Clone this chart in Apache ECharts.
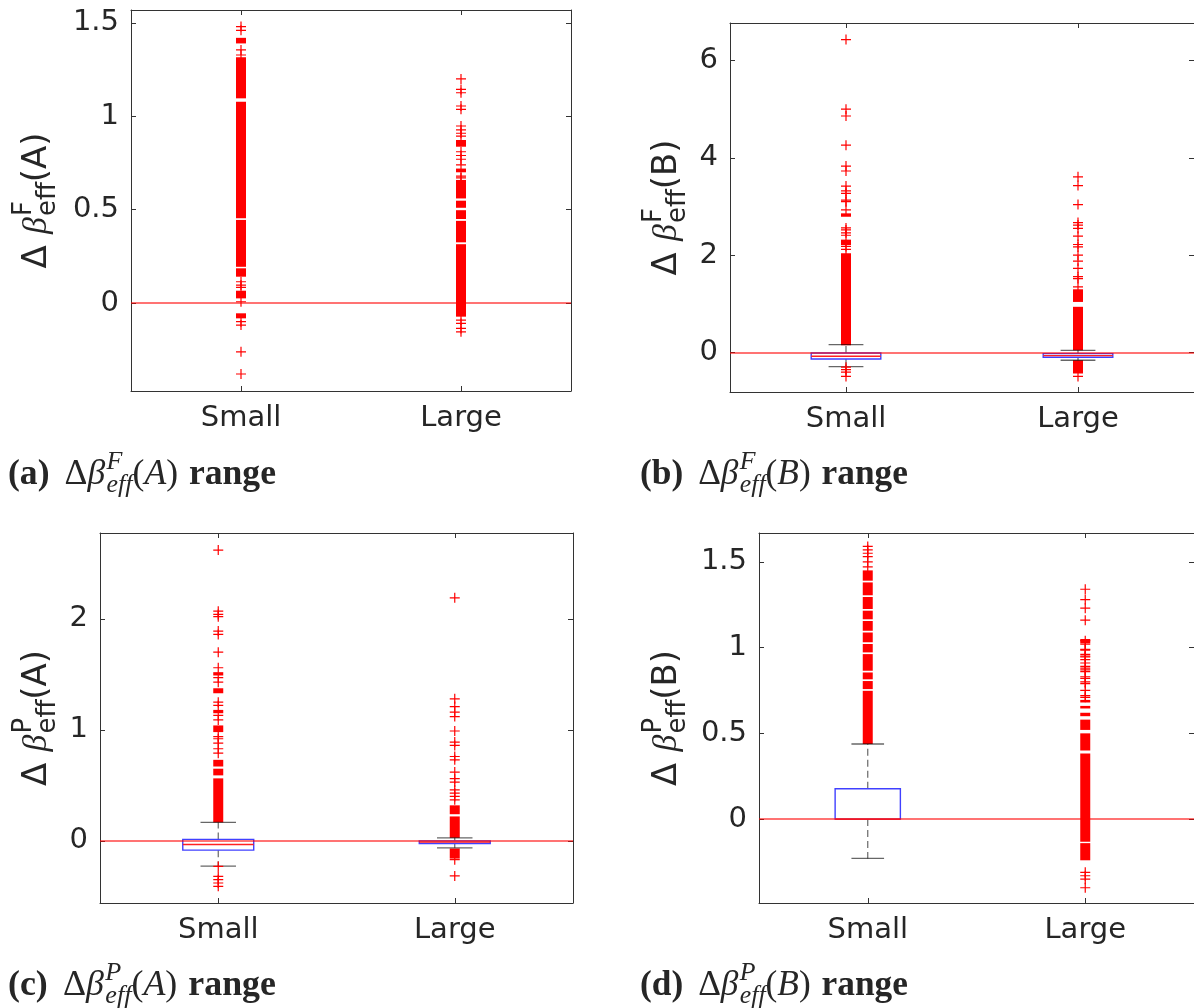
<!DOCTYPE html>
<html><head><meta charset="utf-8">
<script src="https://cdn.jsdelivr.net/npm/echarts@6/dist/echarts.min.js"></script>
<style>html,body{margin:0;padding:0;background:#fff}#c{width:1194px;height:1008px}</style>
</head><body><div id="c"></div>
<script>
// ---------------- DATA ----------------
const categories = ['Small', 'Large'];
const zeroRef = 0;

// (a) ΔβF_eff(A)
const aYTicks = [0, 0.5, 1, 1.5];
const aYRange = [-0.471, 1.569];
const aSmallBox = null;
const aLargeBox = null;
const aSmallOutliers = [1.48, 1.46, 1.355, 1.328, 0.114, 0.096, 0.084, 0.007, -0.10, -0.118, -0.261, -0.38];
const aSmallBands = [[1.39, 1.42], [1.096, 1.316], [0.454, 1.078], [0.194, 0.445], [0.141, 0.186], [0.025, 0.066], [-0.082, -0.055]];
const aLargeOutliers = [1.20, 1.144, 1.126, 1.055, 1.037, 0.948, 0.927, 0.909, 0.894, 0.81, 0.79, 0.77, 0.74, 0.68, 0.67, -0.091, -0.109, -0.136, -0.154];
const aLargeBands = [[0.837, 0.873], [0.70, 0.72], [0.56, 0.659], [0.51, 0.548], [0.45, 0.497], [0.325, 0.44], [-0.073, 0.315]];

// (b) ΔβF_eff(B)   box = [lowWhisker, q1, median, q3, highWhisker]
const bYTicks = [0, 2, 4, 6];
const bYRange = [-0.81, 6.77];
const bSmallBox = [-0.288, -0.131, -0.076, -0.008, 0.165];
const bLargeBox = [-0.158, -0.097, -0.062, -0.021, 0.047];
const bSmallOutliers = [2.12, 2.18, 2.41, 2.46, 2.52, 2.56, 2.93, 3.10, 3.13, 3.27, 3.32, 3.42, 3.73, 3.83, 4.26, 4.86, 5.0, 6.43, -0.30, -0.35, -0.40, -0.49];
const bSmallBands = [[0.15, 2.04], [2.21, 2.32], [2.79, 2.86]];
const bLargeOutliers = [1.35, 1.52, 1.56, 1.73, 1.88, 2.00, 2.17, 2.22, 2.39, 2.55, 2.62, 2.67, 3.04, 3.43, 3.61, -0.49];
const bLargeBands = [[0.047, 0.94], [1.04, 1.30], [-0.43, -0.158]];

// (c) ΔβP_eff(A)
const cYTicks = [0, 1, 2];
const cYRange = [-0.56, 2.774];
const cSmallBox = [-0.228, -0.084, -0.033, 0.013, 0.166];
const cLargeBox = [-0.063, -0.024, -0.012, 0.0, 0.027];
const cSmallOutliers = [0.79, 0.83, 0.88, 0.92, 0.94, 1.09, 1.13, 1.22, 1.25, 1.43, 1.47, 1.56, 1.70, 1.86, 1.89, 2.02, 2.04, 2.07, 2.62, -0.23, -0.32, -0.35, -0.38, -0.41];
const cSmallBands = [[0.166, 0.563], [0.59, 0.65], [0.67, 0.73], [0.98, 1.04], [1.15, 1.18], [1.33, 1.375], [1.49, 1.52]];
const cLargeOutliers = [0.37, 0.40, 0.43, 0.46, 0.53, 0.56, 0.62, 0.73, 0.76, 0.86, 0.89, 0.99, 1.12, 1.16, 1.21, 1.28, 2.19, -0.17, -0.316];
const cLargeBands = [[0.027, 0.22], [0.24, 0.32], [-0.16, -0.069]];

// (d) ΔβP_eff(B)
const dYTicks = [0, 0.5, 1, 1.5];
const dYRange = [-0.489, 1.668];
const dSmallBox = [-0.229, 0.0, 0.0, 0.177, 0.438];
const dLargeBox = null;
const dSmallOutliers = [1.47, 1.50, 1.53, 1.55, 1.57, 1.59];
const dSmallBands = [[0.438, 0.748], [0.758, 0.805], [0.815, 0.855], [0.865, 0.962], [0.972, 1.021], [1.031, 1.088], [1.098, 1.155], [1.165, 1.215], [1.225, 1.295], [1.305, 1.38], [1.39, 1.45]];
const dLargeOutliers = [1.34, 1.28, 1.23, 1.16, 1.04, 1.02, 0.99, 0.985, 0.96, 0.95, 0.945, 0.93, 0.91, 0.89, 0.88, 0.87, 0.86, 0.83, 0.82, 0.80, 0.79, 0.75, 0.72, 0.71, -0.31, -0.33, -0.35, -0.40];
const dLargeBands = [[-0.132, 0.383], [0.40, 0.50], [0.52, 0.58], [0.60, 0.62], [0.645, 0.66], [0.68, 0.695], [1.025, 1.05], [-0.24, -0.14]];

// labels
const panelLetters = ['a', 'b', 'c', 'd'];
const panelSup = ['F', 'F', 'P', 'P'];
const panelArg = ['A', 'B', 'A', 'B'];

// ---------------- LAYOUT / STYLE ----------------
const layout = [
  {left: 131, top: 10, width: 440, height: 381, labelX: 47, capX: 8, capY: 485},
  {left: 730, top: 23, width: 473, height: 369, labelX: 677, capX: 640, capY: 485},
  {left: 100, top: 533, width: 473, height: 370, labelX: 47, capX: 8, capY: 996},
  {left: 759, top: 533, width: 444, height: 370, labelX: 677, capX: 640, capY: 996}
];
const TXT = '#262626';
const AX = '#333333';
const SANS = '"DejaVu Sans", sans-serif';
const SERIF = '"Liberation Serif", "DejaVu Serif", serif';
const plusPath = 'path://M4.4 0H5.6V4.4H10V5.6H5.6V10H4.4V5.6H0V4.4H4.4Z';

const panels = [
  {yRange: aYRange, yTicks: aYTicks, boxes: [aSmallBox, aLargeBox], outliers: [aSmallOutliers, aLargeOutliers], bands: [aSmallBands, aLargeBands]},
  {yRange: bYRange, yTicks: bYTicks, boxes: [bSmallBox, bLargeBox], outliers: [bSmallOutliers, bLargeOutliers], bands: [bSmallBands, bLargeBands]},
  {yRange: cYRange, yTicks: cYTicks, boxes: [cSmallBox, cLargeBox], outliers: [cSmallOutliers, cLargeOutliers], bands: [cSmallBands, cLargeBands]},
  {yRange: dYRange, yTicks: dYTicks, boxes: [dSmallBox, dLargeBox], outliers: [dSmallOutliers, dLargeOutliers], bands: [dSmallBands, dLargeBands]}
];

function renderBox(params, api) {
  const c = api.value(0);
  const lo = api.coord([c, api.value(1)]);
  const q1 = api.coord([c, api.value(2)]);
  const med = api.coord([c, api.value(3)]);
  const q3 = api.coord([c, api.value(4)]);
  const hi = api.coord([c, api.value(5)]);
  const band = api.size([1, 0])[0];
  const bw = band * 0.15, cw = band * 0.075;
  const x = lo[0];
  const wh = {stroke: 'rgba(0,0,0,0.6)', lineWidth: 1.2, lineDash: [7, 4]};
  const cap = {stroke: 'rgba(0,0,0,0.6)', lineWidth: 1.3};
  return {type: 'group', children: [
    {type: 'line', shape: {x1: x, y1: q3[1], x2: x, y2: hi[1]}, style: wh},
    {type: 'line', shape: {x1: x, y1: q1[1], x2: x, y2: lo[1]}, style: wh},
    {type: 'line', shape: {x1: x - cw, y1: hi[1], x2: x + cw, y2: hi[1]}, style: cap},
    {type: 'line', shape: {x1: x - cw, y1: lo[1], x2: x + cw, y2: lo[1]}, style: cap},
    {type: 'rect', shape: {x: x - bw, y: q3[1], width: 2 * bw, height: q1[1] - q3[1]}, style: {fill: 'none', stroke: '#4040ff', lineWidth: 1.4}},
    {type: 'line', shape: {x1: x - bw, y1: med[1], x2: x + bw, y2: med[1]}, style: {stroke: '#ff2020', lineWidth: 1.3}}
  ]};
}
function renderBand(params, api) {
  const c = api.value(0);
  const pLo = api.coord([c, api.value(1)]);
  const pHi = api.coord([c, api.value(2)]);
  return {type: 'rect', shape: {x: pLo[0] - 5, y: pHi[1], width: 10, height: Math.max(1, pLo[1] - pHi[1])}, style: {fill: '#ff0000'}};
}

const grid = [], xAxis = [], yAxis = [], series = [];
panels.forEach((p, i) => {
  const L = layout[i];
  grid.push({left: L.left, top: L.top, width: L.width, height: L.height, containLabel: false});
  const lineStyle = {color: AX, width: 1};
  ['bottom', 'top'].forEach(pos => xAxis.push({
    gridIndex: i, type: 'category', data: categories, position: pos,
    axisLine: {show: true, onZero: false, lineStyle},
    axisTick: {show: true, inside: true, length: 5, alignWithLabel: true, lineStyle},
    axisLabel: {show: pos === 'bottom', fontSize: 29, color: TXT, fontFamily: SANS, margin: 13},
    splitLine: {show: false}
  }));
  ['left', 'right'].forEach(pos => yAxis.push({
    gridIndex: i, type: 'value', position: pos, min: p.yRange[0], max: p.yRange[1],
    axisLine: {show: true, onZero: false, lineStyle},
    axisTick: {show: true, inside: true, length: 5, lineStyle, customValues: p.yTicks},
    axisLabel: {show: pos === 'left', fontSize: 29, color: TXT, fontFamily: SANS, margin: 12, customValues: p.yTicks},
    splitLine: {show: false}
  }));
  const bandData = [], outData = [], boxData = [];
  p.bands.forEach((arr, ci) => arr.forEach(b => bandData.push([ci, b[0], b[1]])));
  p.outliers.forEach((arr, ci) => arr.forEach(v => outData.push([ci, v])));
  p.boxes.forEach((b, ci) => { if (b) boxData.push([ci].concat(b)); });
  series.push({type: 'custom', xAxisIndex: 2 * i, yAxisIndex: 2 * i, renderItem: renderBand, data: bandData, z: 2, silent: true});
  series.push({type: 'custom', xAxisIndex: 2 * i, yAxisIndex: 2 * i, renderItem: renderBox, data: boxData, z: 3, silent: true});
  series.push({
    type: 'scatter', xAxisIndex: 2 * i, yAxisIndex: 2 * i, data: outData, symbol: plusPath, symbolSize: 10,
    itemStyle: {color: '#ff0000', opacity: 1}, z: 4, silent: true,
    markLine: {silent: true, symbol: ['none', 'none'], label: {show: false}, z: 10,
      lineStyle: {color: 'rgba(255,0,0,0.55)', width: 2, type: 'solid'}, data: [{yAxis: zeroRef}]}
  });
});

// ---------- text layout helpers (labels & captions) ----------
const mctx = document.createElement('canvas').getContext('2d');
function measure(text, size, family, weight, style) {
  mctx.font = `${style || 'normal'} ${weight || 'normal'} ${size}px ${family}`;
  return mctx.measureText(text).width;
}
function layoutTokens(tokens, scale) {
  let x = 0; const items = [];
  tokens.forEach(t => {
    const group = t.stack || [t];
    let w = 0;
    group.forEach(g => {
      const size = g.size * scale;
      items.push({text: g.text, x, y: (g.dy || 0) * scale, size, family: g.family, weight: g.weight || 'normal', style: g.style || 'normal'});
      w = Math.max(w, measure(g.text, size, g.family, g.weight, g.style));
    });
    x += w + (t.gap || 0) * scale;
  });
  return {items, width: x};
}
function toTexts(items, offX) {
  return items.map(it => ({
    type: 'text', x: it.x + offX, y: it.y - 0.3 * it.size,
    style: {text: it.text, fontSize: it.size, fontFamily: it.family, fontWeight: it.weight, fontStyle: it.style,
      fill: TXT, align: 'left', verticalAlign: 'middle'}
  }));
}
function fitLayout(tokens, target) {
  const base = layoutTokens(tokens, 1);
  return layoutTokens(tokens, target / base.width);
}

const graphic = [];
panels.forEach((p, i) => {
  const L = layout[i];
  // y axis title: Δ β^X_eff(Y)
  const yTok = [
    {text: 'Δ', size: 30, family: SANS, gap: 10},
    {text: 'β', size: 30, family: SERIF, style: 'italic', gap: 1},
    {stack: [{text: panelSup[i], size: 23, family: SANS, dy: -13}, {text: 'eff', size: 23, family: SANS, dy: 8}]},
    {text: '(' + panelArg[i] + ')', size: 30, family: SANS}
  ];
  const yl = fitLayout(yTok, 136);
  graphic.push({type: 'group', x: L.labelX, y: L.top + L.height / 2, rotation: Math.PI / 2, children: toTexts(yl.items, -yl.width / 2)});
  // caption
  const cTok = [
    {text: '(' + panelLetters[i] + ')', size: 26, family: SERIF, weight: 'bold', gap: 11},
    {text: 'Δ', size: 26, family: SERIF},
    {text: 'β', size: 26, family: SERIF, style: 'italic', gap: 1},
    {stack: [{text: panelSup[i], size: 19, family: SERIF, style: 'italic', dy: -11}, {text: 'eff', size: 19, family: SERIF, style: 'italic', dy: 6}]},
    {text: '(', size: 26, family: SERIF},
    {text: panelArg[i], size: 26, family: SERIF, style: 'italic'},
    {text: ')', size: 26, family: SERIF, gap: 8},
    {text: 'range', size: 26, family: SERIF, weight: 'bold'}
  ];
  const cl = fitLayout(cTok, 268);
  graphic.push({type: 'group', x: L.capX, y: L.capY, children: toTexts(cl.items, 0)});
});

const chart = echarts.init(document.getElementById('c'), null, {renderer: 'canvas'});
chart.setOption({animation: false, backgroundColor: '#ffffff', grid, xAxis, yAxis, series, graphic});
</script>
</body></html>
